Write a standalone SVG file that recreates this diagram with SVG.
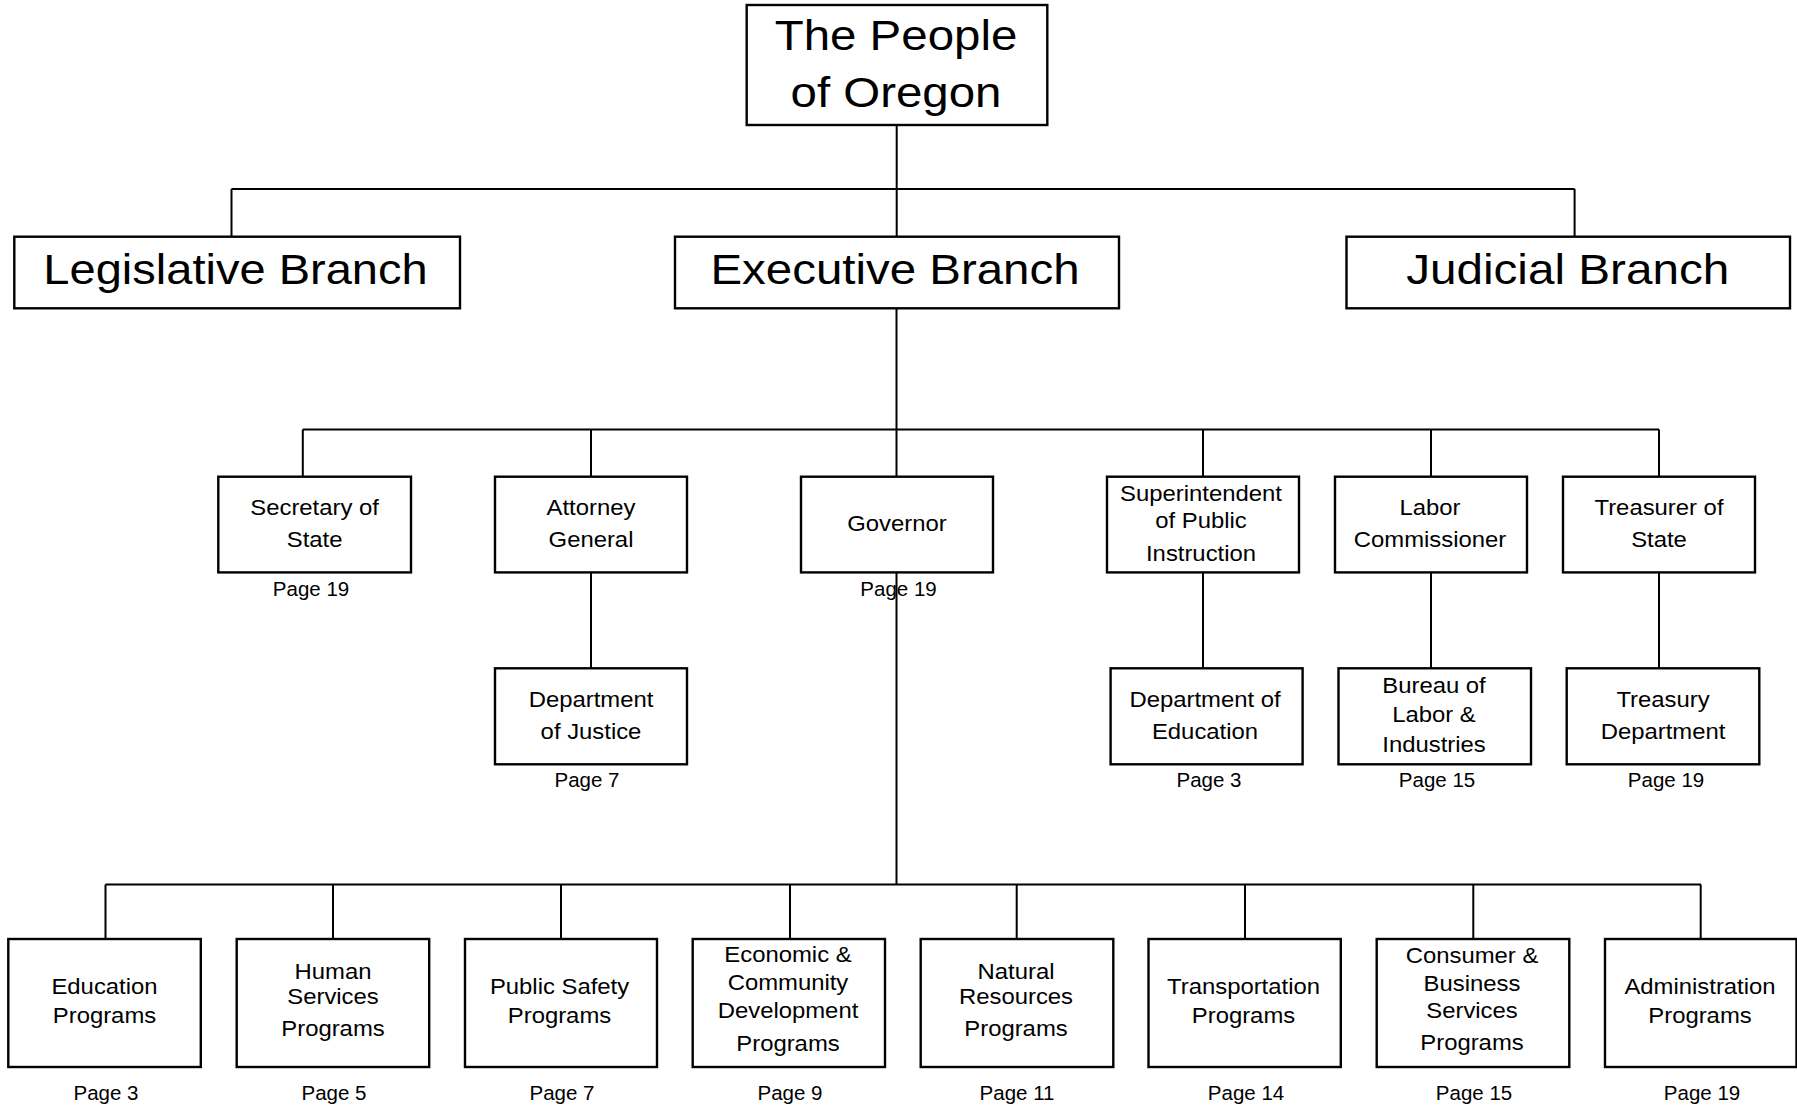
<svg xmlns="http://www.w3.org/2000/svg" width="1797" height="1110" viewBox="0 0 1797 1110">
<style>
rect{fill:#fff;stroke:#000;stroke-width:2.4}
text{font-family:"Liberation Sans",Arial,sans-serif;fill:#000;text-anchor:middle}
.b{font-size:42px}
.m{font-size:22px}
.p{font-size:20.5px}
#connectors path{fill:none;stroke:#000;stroke-width:2}
</style>
<rect x="0" y="0" width="1797" height="1110" style="stroke:none"/>
<g id="people"><rect x="746.7" y="5" width="300.6" height="120"/><text class="b" transform="translate(896 0) scale(1.13 1)"><tspan x="0" y="50.5">The People</tspan><tspan x="0" y="107">of Oregon</tspan></text></g>
<g id="legislative"><rect x="14.3" y="236.7" width="445.7" height="71.6"/><text class="b" transform="translate(235.5 0) scale(1.12 1)" x="0" y="284.5">Legislative Branch</text></g>
<g id="executive"><rect x="675" y="236.7" width="444" height="71.6"/><text class="b" transform="translate(895 0) scale(1.13 1)" x="0" y="284.5">Executive Branch</text></g>
<g id="judicial"><rect x="1346.5" y="236.7" width="443.5" height="71.6"/><text class="b" transform="translate(1567.7 0) scale(1.135 1)" x="0" y="284.5">Judicial Branch</text></g>

<g id="secretary"><rect x="218.3" y="476.7" width="192.7" height="95.7"/><text class="m" transform="translate(314.6 0) scale(1.085 1)"><tspan x="0" y="515">Secretary of</tspan><tspan x="0" y="547">State</tspan></text><text class="p" x="311" y="596">Page 19</text></g>
<g id="attorney"><rect x="495" y="476.7" width="192" height="95.7"/><text class="m" transform="translate(591 0) scale(1.085 1)"><tspan x="0" y="515">Attorney</tspan><tspan x="0" y="547">General</tspan></text></g>
<g id="governor"><rect x="801" y="476.7" width="192" height="95.7"/><text class="m" transform="translate(897 0) scale(1.085 1)" x="0" y="531.5">Governor</text><text class="p" x="898.5" y="596">Page 19</text></g>
<g id="superintendent"><rect x="1107" y="476.7" width="192" height="95.7"/><text class="m" transform="translate(1201 0) scale(1.085 1)"><tspan x="0" y="501">Superintendent</tspan><tspan x="0" y="528">of Public</tspan><tspan x="0" y="561">Instruction</tspan></text></g>
<g id="labor"><rect x="1335" y="476.7" width="192" height="95.7"/><text class="m" transform="translate(1430 0) scale(1.085 1)"><tspan x="0" y="515">Labor</tspan><tspan x="0" y="547">Commissioner</tspan></text></g>
<g id="treasurer"><rect x="1563" y="476.7" width="192" height="95.7"/><text class="m" transform="translate(1659 0) scale(1.085 1)"><tspan x="0" y="515">Treasurer of</tspan><tspan x="0" y="547">State</tspan></text></g>

<g id="justice"><rect x="495" y="668.3" width="192" height="96"/><text class="m" transform="translate(591 0) scale(1.085 1)"><tspan x="0" y="707">Department</tspan><tspan x="0" y="739">of Justice</tspan></text><text class="p" x="587" y="787">Page 7</text></g>
<g id="education-dept"><rect x="1110.6" y="668.3" width="192" height="96"/><text class="m" transform="translate(1205 0) scale(1.085 1)"><tspan x="0" y="707">Department of</tspan><tspan x="0" y="739">Education</tspan></text><text class="p" x="1209" y="787">Page 3</text></g>
<g id="bureau"><rect x="1338.5" y="668.3" width="192.5" height="96"/><text class="m" transform="translate(1434 0) scale(1.085 1)"><tspan x="0" y="693">Bureau of</tspan><tspan x="0" y="722.5">Labor &amp;</tspan><tspan x="0" y="752.5">Industries</tspan></text><text class="p" x="1437" y="787">Page 15</text></g>
<g id="treasury"><rect x="1566.7" y="668.3" width="192.6" height="96"/><text class="m" transform="translate(1663 0) scale(1.085 1)"><tspan x="0" y="707">Treasury</tspan><tspan x="0" y="739">Department</tspan></text><text class="p" x="1666" y="787">Page 19</text></g>

<g id="education"><rect x="8.3" y="939" width="192.5" height="128"/><text class="m" transform="translate(104.5 0) scale(1.085 1)"><tspan x="0" y="994">Education</tspan><tspan x="0" y="1023">Programs</tspan></text><text class="p" x="106" y="1100">Page 3</text></g>
<g id="human"><rect x="236.7" y="939" width="192.5" height="128"/><text class="m" transform="translate(333 0) scale(1.085 1)"><tspan x="0" y="979">Human</tspan><tspan x="0" y="1004">Services</tspan><tspan x="0" y="1036">Programs</tspan></text><text class="p" x="334" y="1100">Page 5</text></g>
<g id="safety"><rect x="465" y="939" width="192" height="128"/><text class="m" transform="translate(559.5 0) scale(1.085 1)"><tspan x="0" y="994">Public Safety</tspan><tspan x="0" y="1023">Programs</tspan></text><text class="p" x="562" y="1100">Page 7</text></g>
<g id="economic"><rect x="692.7" y="939" width="192.3" height="128"/><text class="m" transform="translate(788 0) scale(1.085 1)"><tspan x="0" y="962">Economic &amp;</tspan><tspan x="0" y="990">Community</tspan><tspan x="0" y="1018">Development</tspan><tspan x="0" y="1051">Programs</tspan></text><text class="p" x="790" y="1100">Page 9</text></g>
<g id="natural"><rect x="920.7" y="939" width="192.6" height="128"/><text class="m" transform="translate(1016 0) scale(1.085 1)"><tspan x="0" y="979">Natural</tspan><tspan x="0" y="1004">Resources</tspan><tspan x="0" y="1036">Programs</tspan></text><text class="p" x="1017" y="1100">Page 11</text></g>
<g id="transportation"><rect x="1148.5" y="939" width="192.3" height="128"/><text class="m" transform="translate(1243.5 0) scale(1.085 1)"><tspan x="0" y="994">Transportation</tspan><tspan x="0" y="1023">Programs</tspan></text><text class="p" x="1246" y="1100">Page 14</text></g>
<g id="consumer"><rect x="1376.7" y="939" width="192.6" height="128"/><text class="m" transform="translate(1472 0) scale(1.085 1)"><tspan x="0" y="963">Consumer &amp;</tspan><tspan x="0" y="991">Business</tspan><tspan x="0" y="1018">Services</tspan><tspan x="0" y="1050">Programs</tspan></text><text class="p" x="1474" y="1100">Page 15</text></g>
<g id="administration"><rect x="1605" y="939" width="191.5" height="128"/><text class="m" transform="translate(1700 0) scale(1.085 1)"><tspan x="0" y="994">Administration</tspan><tspan x="0" y="1023">Programs</tspan></text><text class="p" x="1702" y="1100">Page 19</text></g>

<g id="connectors">
<path d="M896.7 125V189M231.5 189H1574.6M231.5 189V236.7M896.7 189V236.7M1574.6 189V236.7"/>
<path d="M896.5 308.3V429.5M302.8 429.5H1659M302.8 429.5V476.7M591 429.5V476.7M896.5 429.5V476.7M1203 429.5V476.7M1431 429.5V476.7M1659 429.5V476.7"/>
<path d="M591 572.4V668.3M1203 572.4V668.3M1431 572.4V668.3M1659 572.4V668.3"/>
<path d="M896.5 572.4V884.5M105.5 884.5H1701M105.5 884.5V939M333 884.5V939M561 884.5V939M790 884.5V939M1016.7 884.5V939M1245 884.5V939M1473.3 884.5V939M1700.7 884.5V939"/>
</g>
</svg>
